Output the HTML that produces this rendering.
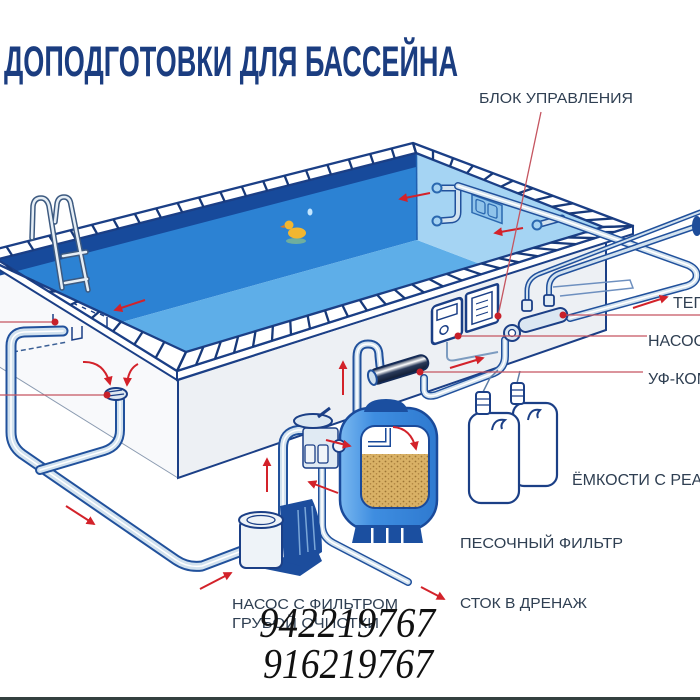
<!DOCTYPE html>
<html><head><meta charset="utf-8">
<style>
html,body{margin:0;padding:0;background:#fff;}
svg{display:block;}
.lbl{font-family:"Liberation Sans",sans-serif;fill:#2f3f52;font-size:15px;}
.lr{font-size:16px;}
.po{fill:none;stroke:#21519c;stroke-linecap:round;stroke-linejoin:round;}
.pi{fill:none;stroke:#d2e2ef;stroke-linecap:round;stroke-linejoin:round;}
.ph{fill:none;stroke:#ffffff;stroke-linecap:round;stroke-linejoin:round;stroke-width:1.5;}
.ar{fill:none;stroke:#d3222a;stroke-width:2;marker-end:url(#ah);}
.ld{stroke:#c55560;stroke-width:1.3;fill:none;}
.dot{fill:#c8202a;}
</style></head><body>
<svg id="s" width="700" height="700" viewBox="0 0 700 700" xmlns="http://www.w3.org/2000/svg">
<defs>
<marker id="ah" viewBox="0 0 10 10" refX="8" refY="5" markerWidth="4.5" markerHeight="4.5" orient="auto"><path d="M0,0 L10,5 L0,10 z" fill="#d3222a"/></marker>
<pattern id="sand" width="6" height="5" patternUnits="userSpaceOnUse"><rect width="6" height="5" fill="#d9b166"/><circle cx="1.5" cy="1.5" r="0.9" fill="#9c7434"/><circle cx="4.5" cy="3.8" r="0.8" fill="#b08440"/></pattern>
<linearGradient id="uvg" x1="0" y1="0" x2="0" y2="1"><stop offset="0" stop-color="#1a2a48"/><stop offset="0.3" stop-color="#ffffff"/><stop offset="0.55" stop-color="#2a3a5a"/><stop offset="1" stop-color="#0f1a30"/></linearGradient>
<linearGradient id="flt" x1="0" y1="0" x2="1" y2="0"><stop offset="0" stop-color="#7ab8f0"/><stop offset="0.35" stop-color="#3e8de0"/><stop offset="1" stop-color="#2f7ad0"/></linearGradient>
<clipPath id="win"><rect x="361" y="426" width="68" height="82" rx="14"/></clipPath>
<path id="p1" d="M63,331 L24,332 Q11,333 11,346 L11,432 Q11,446 22,454 L176,560 Q188,568 202,566 L247,549"/>
<path id="p2" d="M120,400 L120,430 Q120,446 104,451 L40,470"/>
<path id="p3" d="M283,514 L283,448 Q283,432 298,430 L306,430"/>
<path id="p4" d="M357,418 L357,357 Q357,344 368,344 Q379,344 379,356 L380,366"/>
<path id="p5" d="M322,468 L322,525 Q322,537 333,543 L408,582"/>
<path id="p6" d="M424,378 L424,390 Q425,398 436,395 L494,373 Q505,368 505,356 L505,340"/>
<path id="p7" d="M458,186 L560,219 L688,265 Q699,270 696,279 Q693,285 683,287 L570,318"/>
<path id="p8" d="M437,188 L458,188 L458,212 Q458,220 450,220 L437,221"/>
<path id="p9" d="M537,225 L562,218"/>
<path id="p10" d="M527,308 L527,291 Q527,279 539,274 L700,212"/>
<path id="p11" d="M549,303 L549,288 Q549,277 560,273 L697,226"/>
</defs>

<rect width="700" height="700" fill="#fff"/>

<!-- Title -->
<text x="4" y="76" font-family="'Liberation Sans Narrow','Liberation Sans',sans-serif" font-weight="bold" font-size="43" textLength="454" lengthAdjust="spacingAndGlyphs" fill="#1b3d80">ДОПОДГОТОВКИ ДЛЯ БАССЕЙНА</text>
<text class="lbl" x="479" y="103" font-size="14" textLength="154" lengthAdjust="spacingAndGlyphs">БЛОК УПРАВЛЕНИЯ</text>

<!-- Body faces -->
<polygon points="-15,262 178,380 178,478 -15,358" fill="#f8f9fb"/>
<line x1="-15" y1="358" x2="178" y2="478" stroke="#8a9ab0" stroke-width="1"/>
<polygon points="178,380 606,242 606,330 178,478" fill="#edf0f4" stroke="#1b3f86" stroke-width="2"/>

<!-- Water -->
<polygon points="-9,261 416,153 417,240 122,322" fill="#2c82d3"/>
<polygon points="-9,261 416,153 416,167 -2,276" fill="#174a9b"/>
<polygon points="122,322 417,240 480,264 186,352" fill="#5eaee8"/>
<polygon points="416,153 603,227 480,264 417,240" fill="#a5d4f3"/>
<line x1="416.5" y1="154" x2="417" y2="240" stroke="#1f5fb0" stroke-width="1.5"/>

<!-- Far wall items -->
<g transform="translate(487,209) skewY(20)"><rect x="-15" y="-9" width="30" height="18" fill="#8fc3ea" stroke="#2a68b0" stroke-width="1.5"/><rect x="-11" y="-6" width="9" height="12" rx="2" fill="none" stroke="#2a68b0" stroke-width="1.3"/><rect x="1" y="-6" width="9" height="12" rx="2" fill="none" stroke="#2a68b0" stroke-width="1.3"/></g>
<use href="#p8" class="po" stroke="#2a68b0" stroke-width="7"/><use href="#p8" class="pi" stroke="#a9cdea" stroke-width="4"/>
<circle cx="437" cy="188" r="4.5" fill="#a6d3f2" stroke="#2a68b0" stroke-width="2"/>
<circle cx="437" cy="221" r="4.5" fill="#a6d3f2" stroke="#2a68b0" stroke-width="2"/>
<use href="#p9" class="po" stroke="#2a68b0" stroke-width="7"/><use href="#p9" class="pi" stroke="#a9cdea" stroke-width="4"/>
<circle cx="537" cy="225" r="4.5" fill="#a6d3f2" stroke="#2a68b0" stroke-width="2"/>

<!-- Duck & drop -->
<ellipse cx="296" cy="241" rx="10" ry="3" fill="#6fae9e"/>
<ellipse cx="297" cy="233" rx="9" ry="5.5" fill="#f2b630"/>
<circle cx="289" cy="225" r="4.5" fill="#f2b630"/>
<path d="M284,225 L280,227 L285,228 z" fill="#e07a20"/>
<ellipse cx="310" cy="212" rx="2.5" ry="3.5" fill="#c4e6ff"/>

<!-- Rim -->
<polygon points="-15,252 177,371 177,380 -15,261" fill="#fff" stroke="#1b3f86" stroke-width="2"/>
<polygon points="177,371 633,226 633,234 177,380" fill="#fff" stroke="#1b3f86" stroke-width="2"/>
<path d="M-15,252 L413,143 L633,226 L177,371 Z M-9,261 L416,153 L603,227 L186,352 Z" fill="#fff" fill-rule="evenodd" stroke="#1b3f86" stroke-width="2.3" stroke-linejoin="round"/>
<g id="tl" stroke="#17397a" stroke-width="2.3"></g>

<!-- Ladder -->
<g fill="none" stroke-linecap="round" stroke-linejoin="round">
<path d="M32,238 L33,206 Q34,198 41,198 Q47,198 49,206 L62,288 M55,222 L57,204 Q58,197 64,197 Q70,197 71,205 L88,290 M63,256 L86,252 M65,283 L87,279" stroke="#3d5a80" stroke-width="5.5"/>
<path d="M32,238 L33,206 Q34,198 41,198 Q47,198 49,206 L62,288 M55,222 L57,204 Q58,197 64,197 Q70,197 71,205 L88,290 M63,256 L86,252 M65,283 L87,279" stroke="#e6eef5" stroke-width="2.5"/>
</g>

<!-- Skimmer details -->
<path d="M73,303 l4,2 M82,307 l4,2 M91,311 l4,2 M100,314 l4,2 M107,317 L107,327" stroke="#1b3f86" stroke-width="1.5" fill="none"/>
<path d="M53,314 L53,322 M72,327 L72,340 L82,338 L82,326" stroke="#1b3f86" stroke-width="1.5" fill="none"/>
<path d="M13,352 L67,342" stroke="#3a5f95" stroke-width="1.5" stroke-dasharray="5,3" fill="none"/>

<!-- Pipes -->
<use href="#p1" class="po" stroke-width="11"/><use href="#p1" class="pi" stroke-width="7"/><use href="#p1" class="ph"/>
<use href="#p2" class="po" stroke-width="10"/><use href="#p2" class="pi" stroke-width="6"/><use href="#p2" class="ph"/>
<ellipse cx="116" cy="394" rx="11" ry="6" fill="#dde8f2" stroke="#1b3f86" stroke-width="2"/>
<path d="M108,392 L122,390 M108,396 L124,394" stroke="#1b3f86" stroke-width="1.3"/>

<use href="#p7" class="po" stroke-width="8"/><use href="#p7" class="pi" stroke-width="5"/><use href="#p7" class="ph" stroke-width="1"/>
<path d="M553,287 L630,280 L633,288 L560,296" fill="none" stroke="#6d8fbf" stroke-width="1.5"/>
<use href="#p10" class="po" stroke="#e08a55" stroke-width="5"/><use href="#p10" class="pi" stroke="#f8cba6" stroke-width="2"/>
<use href="#p11" class="po" stroke-width="6"/><use href="#p11" class="pi" stroke-width="3"/>
<ellipse cx="697" cy="226" rx="5" ry="10" fill="#1e4d9a"/>

<use href="#p6" class="po" stroke-width="8"/><use href="#p6" class="pi" stroke-width="5"/><use href="#p6" class="ph" stroke-width="1"/>
<use href="#p3" class="po" stroke-width="10"/><use href="#p3" class="pi" stroke-width="6"/><use href="#p3" class="ph"/>
<use href="#p4" class="po" stroke-width="9"/><use href="#p4" class="pi" stroke-width="5"/><use href="#p4" class="ph" stroke-width="1"/>
<use href="#p5" class="po" stroke-width="8"/><use href="#p5" class="pi" stroke-width="5"/><use href="#p5" class="ph" stroke-width="1"/>

<!-- Heater + ring -->
<circle cx="512" cy="333" r="8" fill="#dbe7f2" stroke="#1b3f86" stroke-width="2"/>
<circle cx="512" cy="333" r="3.5" fill="#fff" stroke="#1b3f86" stroke-width="1.3"/>
<g transform="rotate(-16 543 320)"><rect x="518" y="313" width="50" height="14" rx="7" fill="#dbe7f2" stroke="#1b3f86" stroke-width="2"/></g>
<rect x="522" y="300" width="10" height="11" rx="2" fill="#e2ecf5" stroke="#1b3f86" stroke-width="1.8"/>
<rect x="544" y="295" width="10" height="11" rx="2" fill="#e2ecf5" stroke="#1b3f86" stroke-width="1.8"/>

<!-- Control units -->
<path d="M447,342 L447,356 Q447,362 456,360 L498,352" fill="none" stroke="#7d9cc0" stroke-width="2"/>
<g transform="translate(447,321) skewY(-18)"><rect x="-15" y="-19" width="30" height="38" rx="4" fill="#fff" stroke="#1b3f86" stroke-width="2.5"/><rect x="-10" y="-14" width="20" height="10" fill="none" stroke="#1b3f86" stroke-width="1.5"/><circle cx="-3" cy="8" r="4" fill="none" stroke="#1b3f86" stroke-width="1.5"/></g>
<g transform="translate(482,308) skewY(-18)"><rect x="-16" y="-19" width="32" height="38" rx="2" fill="#fff" stroke="#1b3f86" stroke-width="2.5"/><rect x="-10" y="-13" width="20" height="26" fill="none" stroke="#1b3f86" stroke-width="1.5"/><path d="M-6,-6 H6 M-6,0 H6 M-6,6 H6" stroke="#1b3f86" stroke-width="1.2"/></g>

<!-- UV lamp -->
<g transform="rotate(-17 399 369)"><rect x="369" y="362" width="60" height="15" rx="7" fill="url(#uvg)" stroke="#142a55" stroke-width="2"/><ellipse cx="371" cy="369.5" rx="4" ry="7.5" fill="#cfe0ef" stroke="#21519c" stroke-width="2"/></g>

<!-- Tanks -->
<path d="M483,392 L490,378 L498,370 M517,383 L520,371" stroke="#5f7fa8" stroke-width="1.5" fill="none"/>
<rect x="513" y="403" width="44" height="83" rx="11" fill="#fff" stroke="#1b3f86" stroke-width="2.2"/>
<path d="M528,420 Q530,408 540,410 Q536,414 538,418" fill="none" stroke="#1b3f86" stroke-width="2"/>
<rect x="511" y="383" width="13" height="21" rx="3" fill="#fff" stroke="#1b3f86" stroke-width="2"/>
<path d="M511,390 H524 M511,396 H524" stroke="#1b3f86" stroke-width="1.2"/>
<rect x="469" y="413" width="50" height="90" rx="12" fill="#fff" stroke="#1b3f86" stroke-width="2.2"/>
<path d="M492,430 Q494,418 505,420 Q500,424 502,429" fill="none" stroke="#1b3f86" stroke-width="2"/>
<rect x="476" y="392" width="14" height="22" rx="3" fill="#fff" stroke="#1b3f86" stroke-width="2"/>
<path d="M476,399 H490 M476,405 H490" stroke="#1b3f86" stroke-width="1.2"/>

<!-- Sand filter -->
<rect x="340" y="408" width="97" height="122" rx="30" fill="url(#flt)" stroke="#1a4a9a" stroke-width="2.5"/>
<path d="M364,412 Q366,399 386,399 Q406,399 408,412 Z" fill="#1b4fa0"/>
<rect x="361" y="426" width="68" height="82" rx="14" fill="#fff"/>
<rect x="355" y="454" width="80" height="60" fill="url(#sand)" clip-path="url(#win)"/>
<rect x="361" y="426" width="68" height="82" rx="14" fill="none" stroke="#1a4a9a" stroke-width="2"/>
<path d="M388,428 L388,444 L368,444" fill="none" stroke="#1a4a9a" stroke-width="6"/>
<path d="M388,428 L388,444 L368,444" fill="none" stroke="#fff" stroke-width="3"/>
<path d="M356,525 L352,543 L423,543 L420,525 Z" fill="#1b4fa0"/>
<rect x="371" y="528" width="2.5" height="15" fill="#fff"/><rect x="386" y="528" width="2.5" height="15" fill="#fff"/><rect x="401" y="528" width="2.5" height="15" fill="#fff"/>

<!-- Multiport valve -->
<rect x="303" y="428" width="35" height="40" rx="3" fill="#e0eaf3" stroke="#1b3f86" stroke-width="1.5"/>
<rect x="305" y="445" width="10" height="18" rx="2" fill="#f1f5f9" stroke="#1b3f86" stroke-width="1.3"/>
<rect x="318" y="445" width="10" height="18" rx="2" fill="#f1f5f9" stroke="#1b3f86" stroke-width="1.3"/>
<circle cx="339" cy="446" r="6" fill="#f1f5f9" stroke="#1b3f86" stroke-width="1.8"/>
<ellipse cx="313" cy="421" rx="19" ry="7" fill="#dbe7f2" stroke="#1b3f86" stroke-width="2"/>
<path d="M318,417 L330,408" stroke="#1b3f86" stroke-width="3"/>

<!-- Pump -->
<path d="M245,565 L300,576 L322,561 L318,552 L265,560 Z" fill="#1c4d9d"/>
<path d="M280,506 L312,499 Q322,520 322,552 L300,566 L284,561 Z" fill="#1c4d9d"/>
<path d="M298,510 L300,555 M305,507 L308,552 M312,506 L315,550" stroke="#7aa6d8" stroke-width="1.5"/>
<rect x="240" y="520" width="42" height="48" rx="6" fill="#eef3f8" stroke="#1b3f86" stroke-width="2"/>
<ellipse cx="261" cy="520" rx="22" ry="8" fill="#eef3f8" stroke="#1b3f86" stroke-width="2"/>
<ellipse cx="261" cy="520" rx="14" ry="4.5" fill="none" stroke="#1b3f86" stroke-width="1.3"/>

<!-- Red arrows -->
<path class="ar" d="M145,300 L115,310"/>
<path class="ar" d="M430,193 L400,199"/>
<path class="ar" d="M523,228 L495,233"/>
<path class="ar" d="M83,362 Q104,361 110,384"/>
<path class="ar" d="M138,364 Q128,369 127,385"/>
<path class="ar" d="M66,506 L94,524"/>
<path class="ar" d="M200,589 L231,573"/>
<path class="ar" d="M267,492 L267,459"/>
<path class="ar" d="M343,395 L343,362"/>
<path class="ar" d="M326,440 L350,446"/>
<path class="ar" d="M338,493 L309,482"/>
<path class="ar" d="M393,427 Q411,428 416,449"/>
<path class="ar" d="M421,587 L444,599"/>
<path class="ar" d="M450,368 L483,358"/>
<path class="ar" d="M633,308 L667,297"/>

<!-- Leaders -->
<path class="ld" d="M0,322 H55 M0,395 H107 M420,372 H643 M458,336 H647 M563,315 H700 M498,316 L541,112"/>
<circle class="dot" cx="55" cy="322" r="3.5"/>
<circle class="dot" cx="107" cy="395" r="3.5"/>
<circle class="dot" cx="420" cy="372" r="3.5"/>
<circle class="dot" cx="458" cy="336" r="3.5"/>
<circle class="dot" cx="498" cy="316" r="3.5"/>
<circle class="dot" cx="563" cy="315" r="3.5"/>

<!-- Labels -->
<text class="lbl lr" x="673" y="308">ТЕПЛООБМЕННИК</text>
<text class="lbl lr" x="648" y="346">НАСОС-ДОЗАТОР</text>
<text class="lbl lr" x="648" y="384">УФ-КОМПЛЕКС</text>
<text class="lbl lr" x="572" y="485">ЁМКОСТИ С РЕАГЕНТАМИ</text>
<text class="lbl" x="460" y="548" textLength="163" lengthAdjust="spacingAndGlyphs">ПЕСОЧНЫЙ ФИЛЬТР</text>
<text class="lbl" x="460" y="608" textLength="127" lengthAdjust="spacingAndGlyphs">СТОК В ДРЕНАЖ</text>
<text class="lbl" x="232" y="609" textLength="166" lengthAdjust="spacingAndGlyphs">НАСОС С ФИЛЬТРОМ</text>
<text class="lbl" x="232" y="628" textLength="147" lengthAdjust="spacingAndGlyphs">ГРУБОЙ ОЧИСТКИ</text>

<!-- Phones -->
<text x="259" y="637" font-family="'Liberation Serif',serif" font-style="italic" font-size="42" textLength="176" lengthAdjust="spacingAndGlyphs" fill="#111">942219767</text>
<text x="263" y="678" font-family="'Liberation Serif',serif" font-style="italic" font-size="42" textLength="170" lengthAdjust="spacingAndGlyphs" fill="#111">916219767</text>

<rect x="0" y="697" width="700" height="3" fill="#34403f"/>
</svg>
<script>
(function(){
var NS="http://www.w3.org/2000/svg";
var P0=[-15,252],P1=[413,143],P2=[633,226],P3=[177,371],Q0=[-9,261],Q1=[416,153],Q2=[603,227],Q3=[186,352];
var g=document.getElementById('tl');
function band(a,b,c,d,n){for(var k=0;k<=n;k++){var t=k/n;var l=document.createElementNS(NS,'line');
l.setAttribute('x1',a[0]+(b[0]-a[0])*t);l.setAttribute('y1',a[1]+(b[1]-a[1])*t);
l.setAttribute('x2',c[0]+(d[0]-c[0])*t);l.setAttribute('y2',c[1]+(d[1]-c[1])*t);g.appendChild(l);}}
band(P0,P1,Q0,Q1,20);band(P1,P2,Q1,Q2,11);band(P2,P3,Q2,Q3,24);band(P3,P0,Q3,Q0,9);
})();
</script>
</body></html>
